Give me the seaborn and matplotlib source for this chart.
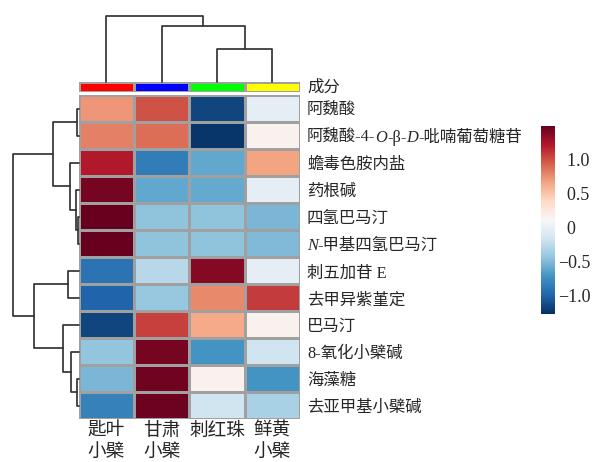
import numpy as np
import pandas as pd
import matplotlib
matplotlib.use("Agg")
import matplotlib.pyplot as plt
from matplotlib.colors import ListedColormap
import seaborn as sns

# compounds (display order, top to bottom); *...* marks italic letters
compounds = ["阿魏酸", "阿魏酸-4-*O*-β-*D*-吡喃葡萄糖苷", "蟾毒色胺内盐", "药根碱",
             "四氢巴马汀", "*N*-甲基四氢巴马汀", "刺五加苷 E", "去甲异紫堇定",
             "巴马汀", "8-氧化小檗碱", "海藻糖", "去亚甲基小檗碱"]
species = ["匙叶\n小檗", "甘肃\n小檗", "刺红珠", "鲜黄\n小檗"]
species_colors = ["#FF0000", "#0000FF", "#00FF00", "#FFFF00"]

# row-scaled values, one list per species column
spoon_leaf = [0.72, 0.81, 1.22, 1.44, 1.50, 1.50, -0.92, -1.00, -1.17, -0.44, -0.53, -0.83]
gansu = [1.00, 0.89, -0.86, -0.61, -0.45, -0.45, -0.28, -0.42, 1.06, 1.44, 1.46, 1.47]
cihongzhu = [-1.17, -1.24, -0.61, -0.60, -0.45, -0.45, 1.39, 0.78, 0.64, -0.72, 0.17, -0.17]
xianhuang = [-0.03, 0.17, 0.67, -0.03, -0.52, -0.50, -0.03, 1.08, 0.17, -0.17, -0.72, -0.34]

# linkage (left, right, height) in scipy style; leaves are display positions
row_merges = [(0, 1, 1.3), (4, 5, 0.7), (3, 13, 2.3), (2, 14, 8.3), (12, 15, 26.0),
              (10, 11, 1.7), (9, 17, 7.3), (8, 18, 15.7), (6, 7, 10.7),
              (20, 19, 44.7), (16, 21, 65.7)]
col_merges = [(2, 3, 32.7), (1, 4, 55.7), (0, 5, 66.0)]

VMIN, VMAX = -1.28, 1.50
cb_ticks = [-1.0, -0.5, 0, 0.5, 1.0]
cb_labels = ["\u22121.0", "\u22120.5", "\u20070", "\u20070.5", "\u20071.0"]

sns.set_style("white")
plt.rcParams["font.family"] = ["Liberation Serif", "Noto Sans CJK SC"]

df = pd.DataFrame({species[0]: spoon_leaf, species[1]: gansu,
                   species[2]: cihongzhu, species[3]: xianhuang}, index=compounds)

W, H = 599, 462
fig = plt.figure(figsize=(W / 100, H / 100), dpi=100)


def box(left, top, right, bottom):
    return [left / W, 1 - bottom / H, (right - left) / W, (bottom - top) / H]


ax_heat = fig.add_axes(box(78.5, 95, 300, 419))
ax_ann = fig.add_axes(box(78.5, 81.7, 300, 91.7))
ax_cden = fig.add_axes(box(78.5, 15.7, 300, 81.7))
ax_rden = fig.add_axes(box(13.3, 95, 78.5, 419))
cax = fig.add_axes(box(541, 126, 555, 314))

grid_col = "#a0a0a0"
sns.heatmap(df, ax=ax_heat, cmap="RdBu_r", vmin=VMIN, vmax=VMAX,
            linewidths=0.9, linecolor=grid_col, cbar_ax=cax,
            cbar_kws={"ticks": cb_ticks}, xticklabels=False, yticklabels=False)
ax_heat.set_xlabel("")
ax_heat.set_ylabel("")

cbar = ax_heat.collections[0].colorbar
cbar.outline.set_visible(False)
cbar.ax.set_yticklabels(cb_labels)
cbar.ax.tick_params(length=0, pad=2, labelsize=13)

# annotation bar
ann = pd.DataFrame([list(range(len(species)))], columns=species)
sns.heatmap(ann, ax=ax_ann, cmap=ListedColormap(species_colors), cbar=False,
            linewidths=0.9, linecolor=grid_col, xticklabels=False, yticklabels=False)
ax_ann.annotate("成分", xy=(1, 0.5), xycoords="axes fraction", xytext=(5, -1),
                textcoords="offset points", va="center", ha="left", fontsize=11.8)


def draw_dendrogram(ax, merges, n, orient):
    pos = {i: i + 0.5 for i in range(n)}
    hgt = {i: 0.0 for i in range(n)}
    for k, (a, b, h) in enumerate(merges):
        xs = [pos[a], pos[a], pos[b], pos[b]]
        ys = [hgt[a], h, h, hgt[b]]
        if orient == "top":
            ax.plot(xs, ys, color="#333333", lw=1.25, clip_on=False)
        else:
            ax.plot(ys, xs, color="#333333", lw=1.25, clip_on=False)
        pos[n + k] = (pos[a] + pos[b]) / 2
        hgt[n + k] = h
    top_h = merges[-1][2]
    if orient == "top":
        ax.set_xlim(0, n)
        ax.set_ylim(0, top_h)
    else:
        ax.set_ylim(n, 0)
        ax.set_xlim(top_h, 0)
    ax.axis("off")


draw_dendrogram(ax_cden, col_merges, len(species), "top")
draw_dendrogram(ax_rden, row_merges, len(compounds), "left")

# row labels, drawn piece by piece so the italic letters can be set
for i, label in enumerate(compounds):
    pieces = label.split("*")
    prev = None
    for j, piece in enumerate(pieces):
        if not piece:
            continue
        style = "italic" if j % 2 == 1 else "normal"
        if prev is None:
            prev = ax_heat.annotate(piece, xy=(len(species), i + 0.5), xycoords="data",
                                    xytext=(5, -2), textcoords="offset points",
                                    va="center", ha="left", fontsize=11.8,
                                    fontstyle=style, annotation_clip=False)
        else:
            prev = ax_heat.annotate(piece, xy=(1, 0), xycoords=prev,
                                    va="bottom", ha="left", fontsize=11.8,
                                    fontstyle=style, annotation_clip=False)

# column labels
for j, name in enumerate(species):
    ax_heat.annotate(name, xy=(j + 0.5, len(compounds)), xycoords="data",
                     xytext=(0, -2.5), textcoords="offset points", va="top",
                     ha="center", multialignment="center", fontsize=13.4,
                     linespacing=1.3, annotation_clip=False)

fig.savefig("out.png", dpi=100)
